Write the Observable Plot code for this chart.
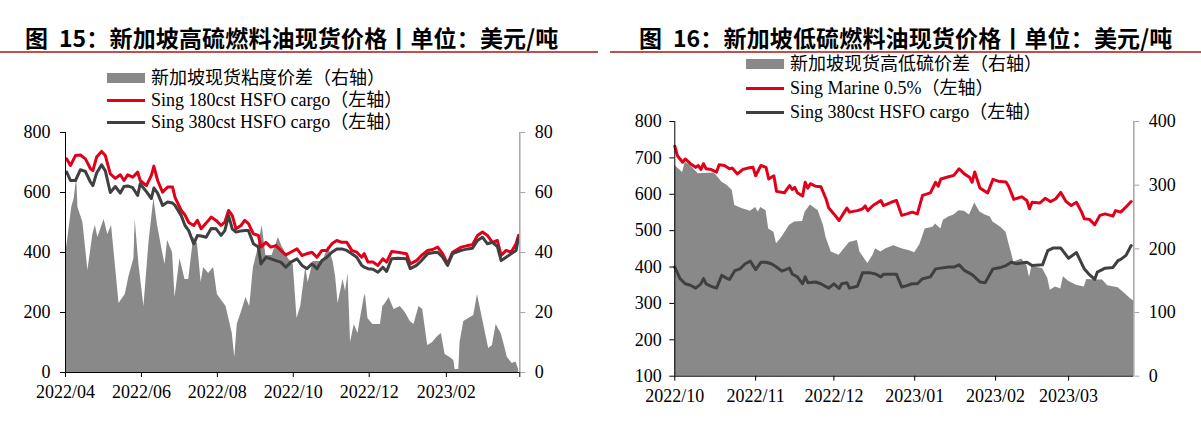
<!DOCTYPE html>
<html><head><meta charset="utf-8">
<script src="https://cdn.jsdelivr.net/npm/d3@7"></script>
<script src="https://cdn.jsdelivr.net/npm/@observablehq/plot@0.6"></script>
<style>
body{margin:0;background:#fff;width:1201px;height:429px;position:relative;overflow:hidden;font-family:"Liberation Serif","Noto Sans CJK SC",serif;color:#000}
.title{position:absolute;top:24px;font-family:"Noto Sans CJK SC",sans-serif;font-weight:700;font-size:23px;letter-spacing:0.15px;line-height:26px;white-space:pre}
.rule{position:absolute;top:51px;height:2px;background:#c0504d}
.legend{position:absolute;font-size:18px;white-space:nowrap}
.item{display:flex;align-items:center}
.sw{width:38px;margin-right:6px;flex:none}
.chart{position:absolute}
.chart svg{overflow:visible}
</style></head><body>
<div class="title" style="left:25px">图  15：新加坡高硫燃料油现货价格丨单位：美元/吨</div>
<div class="rule" style="left:0;width:598px"></div>
<div class="title" style="left:639px">图  16：新加坡低硫燃料油现货价格丨单位：美元/吨</div>
<div class="rule" style="left:610px;width:591px"></div>
<div id="legL" class="legend" style="left:107px;top:67px"></div>
<div id="legR" class="legend" style="left:746px;top:52px"></div>
<div id="chartL" class="chart" style="left:0;top:120px"></div>
<div id="chartR" class="chart" style="left:600px;top:110px"></div>
<script>
// ---------- Figure 15 data ----------
const leftLineDates = ["2022-04-02","2022-04-05","2022-04-09","2022-04-13","2022-04-17","2022-04-21","2022-04-23","2022-04-26","2022-04-30","2022-05-03",
"2022-05-07","2022-05-11","2022-05-15","2022-05-18","2022-05-21","2022-05-25","2022-05-29","2022-05-31","2022-06-05","2022-06-09",
"2022-06-11","2022-06-14","2022-06-18","2022-06-22","2022-06-26","2022-06-28","2022-07-03","2022-07-06","2022-07-09","2022-07-13",
"2022-07-16","2022-07-19","2022-07-23","2022-07-27","2022-07-31","2022-08-04","2022-08-07","2022-08-10","2022-08-13","2022-08-16",
"2022-08-20","2022-08-23","2022-08-26","2022-08-30","2022-09-03","2022-09-05","2022-09-09","2022-09-13","2022-09-17","2022-09-21",
"2022-09-25","2022-09-29","2022-10-04","2022-10-08","2022-10-12","2022-10-16","2022-10-20","2022-10-24","2022-10-28","2022-11-01",
"2022-11-05","2022-11-09","2022-11-13","2022-11-17","2022-11-21","2022-11-25","2022-11-27","2022-11-30","2022-12-04","2022-12-08",
"2022-12-12","2022-12-15","2022-12-19","2022-12-24","2022-12-31","2023-01-03","2023-01-08","2023-01-12","2023-01-17","2023-01-21",
"2023-01-25","2023-01-29","2023-02-02","2023-02-06","2023-02-13","2023-02-18","2023-02-22","2023-02-26","2023-03-02","2023-03-06",
"2023-03-10","2023-03-14","2023-03-17","2023-03-21","2023-03-25","2023-03-29","2023-03-31"];
const hsfo180 = [712,690,723,725,712,680,673,718,737,723,
662,647,659,640,659,651,668,640,623,657,
688,640,601,618,618,584,540,525,500,490,
507,479,498,518,507,490,501,540,523,479,
490,507,496,462,457,418,434,418,423,407,
392,401,412,390,396,401,384,407,407,429,
440,434,434,407,401,384,396,368,368,357,
379,368,403,401,396,362,373,390,407,410,
418,396,362,401,418,423,426,457,468,457,
434,440,390,407,401,429,457];
const hsfo380 = [668,640,640,676,670,635,623,665,692,672,
600,620,598,620,622,616,590,629,603,580,
615,598,557,568,565,557,523,490,473,429,
457,455,451,480,479,457,473,523,479,468,
472,473,473,429,418,362,384,379,373,368,
351,368,379,357,346,362,346,373,384,401,
412,412,407,396,384,357,351,346,344,334,
351,337,379,381,379,346,357,373,396,399,
401,384,357,396,407,412,414,440,451,429,
434,420,373,384,396,407,451];
const viscositySpread = [["2022-04-01",39],["2022-04-03",45],["2022-04-06",55],["2022-04-08",58],["2022-04-10",65],["2022-04-11",55],["2022-04-15",50],["2022-04-19",34],["2022-04-23",46],["2022-04-25",49],["2022-04-27",45],
["2022-05-02",51],["2022-05-05",46],["2022-05-08",49],["2022-05-11",36],["2022-05-14",23],["2022-05-19",26],["2022-05-22",32],["2022-05-26",38],["2022-05-27",51],["2022-05-30",36],
["2022-06-03",22],["2022-06-07",43],["2022-06-11",58],["2022-06-14",49],["2022-06-18",40],["2022-06-20",36],["2022-06-22",44],["2022-06-26",40],["2022-06-28",25],
["2022-07-02",38],["2022-07-06",31],["2022-07-09",31],["2022-07-13",45],["2022-07-16",43],["2022-07-19",30],["2022-07-21",35],["2022-07-25",33],["2022-07-29",35],
["2022-08-01",26],["2022-08-08",22],["2022-08-13",13],["2022-08-15",5],["2022-08-17",16],["2022-08-21",21],["2022-08-24",25],["2022-08-27",22],["2022-08-30",35],
["2022-09-02",40],["2022-09-06",49],["2022-09-09",39],["2022-09-14",39],["2022-09-19",45],["2022-09-22",42],["2022-09-27",38],
["2022-10-01",36],["2022-10-04",18],["2022-10-07",22],["2022-10-11",35],["2022-10-13",30],["2022-10-17",37],["2022-10-21",37],["2022-10-25",37],["2022-10-29",42],
["2022-11-02",37],["2022-11-04",32],["2022-11-06",23],["2022-11-10",31],["2022-11-12",27],["2022-11-14",33],["2022-11-16",10],["2022-11-19",16],["2022-11-22",13],["2022-11-24",18],["2022-11-27",25],["2022-11-28",26],["2022-11-30",18],
["2022-12-04",16],["2022-12-10",16],["2022-12-12",22],["2022-12-14",23],["2022-12-17",25],["2022-12-21",21],["2022-12-26",22],["2022-12-30",20],
["2023-01-03",17],["2023-01-06",16],["2023-01-10",22],["2023-01-13",21],["2023-01-17",9],["2023-01-21",10],["2023-01-25",12],["2023-01-28",13],["2023-01-31",6],
["2023-02-04",5],["2023-02-07",4],["2023-02-08",1],["2023-02-11",1],["2023-02-12",10],["2023-02-15",17],["2023-02-19",18],["2023-02-23",19],["2023-02-26",26],
["2023-03-02",18],["2023-03-05",12],["2023-03-07",8],["2023-03-10",9],["2023-03-13",16],["2023-03-17",13],["2023-03-19",10],["2023-03-22",5],["2023-03-26",3],["2023-03-29",3.5],["2023-03-31",1]];
const leftYTicks = [0,200,400,600,800];
const leftXTicks = ["2022-04-01","2022-06-01","2022-08-01","2022-10-01","2022-12-01","2023-02-01"];

// ---------- Figure 16 data ----------
const marine05 = [["2022-10-01",732],["2022-10-02",706],["2022-10-04",688],["2022-10-05",697],["2022-10-07",684],["2022-10-09",674],["2022-10-10",679],["2022-10-11",668],["2022-10-12",684],["2022-10-13",670],
["2022-10-15",668],["2022-10-17",661],["2022-10-18",681],["2022-10-20",679],["2022-10-22",670],["2022-10-23",672],["2022-10-25",656],["2022-10-27",668],["2022-10-29",672],["2022-10-31",674],
["2022-11-01",651],["2022-11-03",679],["2022-11-05",674],["2022-11-06",642],["2022-11-08",651],["2022-11-09",608],["2022-11-12",604],["2022-11-14",624],["2022-11-15",613],["2022-11-16",619],
["2022-11-17",604],["2022-11-19",595],["2022-11-20",633],["2022-11-21",617],["2022-11-22",629],["2022-11-24",622],["2022-11-26",621],["2022-11-28",587],["2022-11-29",563],
["2022-12-01",546],["2022-12-03",528],["2022-12-05",551],["2022-12-06",562],["2022-12-07",551],["2022-12-10",555],["2022-12-12",560],["2022-12-13",568],["2022-12-14",555],["2022-12-16",569],
["2022-12-19",583],["2022-12-20",569],["2022-12-23",578],["2022-12-25",583],["2022-12-27",542],["2022-12-29",546],["2022-12-31",551],
["2023-01-02",546],["2023-01-04",597],["2023-01-07",604],["2023-01-09",633],["2023-01-10",622],["2023-01-11",642],["2023-01-14",648],["2023-01-16",652],["2023-01-18",670],["2023-01-20",656],
["2023-01-22",647],["2023-01-23",633],["2023-01-24",661],["2023-01-26",617],["2023-01-28",608],["2023-01-29",604],["2023-01-31",641],
["2023-02-02",636],["2023-02-05",634],["2023-02-06",622],["2023-02-08",586],["2023-02-11",593],["2023-02-13",583],["2023-02-14",560],["2023-02-15",578],["2023-02-18",576],["2023-02-20",589],
["2023-02-22",580],["2023-02-24",587],["2023-02-26",605],["2023-02-28",580],
["2023-03-02",569],["2023-03-04",578],["2023-03-06",551],["2023-03-07",533],["2023-03-09",531],["2023-03-11",516],["2023-03-13",542],["2023-03-15",546],["2023-03-18",540],["2023-03-19",555],
["2023-03-21",551],["2023-03-23",565],["2023-03-25",580]];
const hsfo380b = [["2022-10-01",400],["2022-10-03",368],["2022-10-05",354],["2022-10-07",350],["2022-10-09",342],["2022-10-11",354],["2022-10-12",368],["2022-10-13",354],["2022-10-15",347],["2022-10-17",342],
["2022-10-19",377],["2022-10-21",369],["2022-10-22",366],["2022-10-24",390],["2022-10-26",395],["2022-10-28",409],["2022-10-30",416],
["2022-11-01",393],["2022-11-03",413],["2022-11-05",413],["2022-11-07",409],["2022-11-09",400],["2022-11-11",389],["2022-11-14",397],["2022-11-15",381],["2022-11-17",373],["2022-11-19",354],
["2022-11-20",373],["2022-11-21",357],["2022-11-24",359],["2022-11-26",354],["2022-11-29",342],
["2022-12-01",354],["2022-12-03",341],["2022-12-04",354],["2022-12-06",357],["2022-12-07",342],["2022-12-10",347],["2022-12-12",384],["2022-12-15",384],["2022-12-17",381],["2022-12-19",373],
["2022-12-20",380],["2022-12-25",380],["2022-12-27",345],["2022-12-29",349],["2022-12-31",354],
["2023-01-02",354],["2023-01-04",368],["2023-01-07",373],["2023-01-09",395],["2023-01-11",397],["2023-01-14",400],["2023-01-16",400],["2023-01-18",406],["2023-01-20",391],["2023-01-23",379],
["2023-01-26",359],["2023-01-28",357],["2023-01-31",395],
["2023-02-03",399],["2023-02-05",404],["2023-02-07",413],["2023-02-09",409],["2023-02-13",413],["2023-02-15",404],["2023-02-19",406],["2023-02-21",445],["2023-02-23",452],["2023-02-26",452],
["2023-03-01",424],["2023-03-04",440],["2023-03-07",395],["2023-03-09",379],["2023-03-11",366],["2023-03-12",386],["2023-03-15",397],["2023-03-18",399],["2023-03-20",418],["2023-03-21",421],
["2023-03-23",432],["2023-03-25",459]];
const sulphurSpread = [["2022-10-01",331],["2022-10-04",320],["2022-10-05",336],["2022-10-07",331],["2022-10-10",318],["2022-10-16",319],["2022-10-17",315],["2022-10-18",310],["2022-10-19",305],["2022-10-21",300],
["2022-10-23",292],["2022-10-24",268],["2022-10-27",263],["2022-10-30",259],
["2022-11-01",265],["2022-11-02",258],["2022-11-03",265],["2022-11-05",260],["2022-11-06",231],["2022-11-08",226],["2022-11-09",208],["2022-11-11",218],["2022-11-14",237],["2022-11-16",242],
["2022-11-19",243],["2022-11-20",258],["2022-11-22",269],["2022-11-25",260],["2022-11-27",237],["2022-11-28",218],["2022-11-30",195],
["2022-12-03",190],["2022-12-05",200],["2022-12-07",210],["2022-12-10",213],["2022-12-11",195],["2022-12-14",177],["2022-12-16",190],["2022-12-17",200],["2022-12-19",195],["2022-12-21",200],
["2022-12-24",205],["2022-12-27",200],["2022-12-30",197],
["2023-01-01",194],["2023-01-03",207],["2023-01-05",231],["2023-01-08",234],["2023-01-09",239],["2023-01-11",231],["2023-01-12",245],["2023-01-14",250],["2023-01-16",253],["2023-01-18",260],
["2023-01-20",259],["2023-01-22",253],["2023-01-24",272],["2023-01-26",258],["2023-01-28",253],["2023-01-30",250],["2023-01-31",242],
["2023-02-03",234],["2023-02-05",226],["2023-02-06",210],["2023-02-07",195],["2023-02-08",179],["2023-02-09",181],["2023-02-11",184],["2023-02-13",174],["2023-02-14",155],["2023-02-15",174],
["2023-02-16",171],["2023-02-19",169],["2023-02-21",154],["2023-02-22",135],["2023-02-24",140],["2023-02-26",137],["2023-02-27",156],
["2023-03-01",149],["2023-03-04",143],["2023-03-07",140],["2023-03-08",152],["2023-03-11",151],["2023-03-14",151],["2023-03-16",142],["2023-03-20",139],["2023-03-22",132],["2023-03-25",121],["2023-03-26",118]];
const rightYTicks = [100,200,300,400,500,600,700,800];
const rightY2Ticks = [0,100,200,300,400];
const rightXTicks = ["2022-10-01","2022-11-01","2022-12-01","2023-01-01","2023-02-01","2023-03-01"];

// legend labels
const legendLeft = ["新加坡现货粘度价差（右轴）","Sing 180cst HSFO cargo（左轴）","Sing 380cst HSFO cargo（左轴）"];
const legendRight = ["新加坡现货高低硫价差（右轴）","Sing Marine 0.5%（左轴）","Sing 380cst HSFO cargo（左轴）"];

// ---------- styles ----------
const RED = "#e1001a", DARK = "#404040", AREA = "#898989", AXIS2 = "#a6a6a6";
const parse = d3.utcParse("%Y-%m-%d");
const fmt = d3.utcFormat("%Y/%m");
const style = {fontFamily:'"Liberation Serif","Times New Roman",serif', fontSize:"18px", color:"#000", background:"transparent", overflow:"visible"};

function legend(el, labels, rowH){
  const kinds = [{bg:AREA,h:10},{bg:RED,h:3},{bg:DARK,h:3}];
  labels.forEach((t,i)=>{
    const row = document.createElement("div"); row.className="item";
    row.style.height = rowH+"px"; row.style.lineHeight = rowH+"px";
    const sw = document.createElement("div"); sw.className="sw";
    sw.style.background = kinds[i].bg; sw.style.height = kinds[i].h+"px";
    const tx = document.createElement("span"); tx.textContent = t;
    row.append(sw, tx); el.append(row);
  });
}
legend(document.getElementById("legL"), legendLeft, 22);
legend(document.getElementById("legR"), legendRight, 24);

// ---------- Figure 15 ----------
{
  const lines = leftLineDates.map((d,i)=>({date:parse(d), a:hsfo180[i], b:hsfo380[i]}));
  const area = viscositySpread.map(([d,v])=>({date:parse(d), v}));
  const x0 = parse("2022-04-01"), x1 = parse("2023-04-01");
  const chart = Plot.plot({
    width:600, height:300, marginLeft:65, marginRight:80.7, marginTop:12, marginBottom:48,
    style,
    x:{type:"utc", domain:[x0,x1]},
    y:{domain:[0,800]},
    marks:[
      Plot.areaY(area,{x:"date", y:d=>d.v*10, fill:AREA}),
      Plot.lineY(lines,{x:"date", y:"a", stroke:RED, strokeWidth:3}),
      Plot.lineY(lines,{x:"date", y:"b", stroke:DARK, strokeWidth:3}),
      Plot.ruleX([x1],{stroke:AXIS2, strokeWidth:1.5}),
      Plot.ruleX([x0],{stroke:"#000"}),
      Plot.ruleY([0],{stroke:"#000"}),
      Plot.axisY({anchor:"left", ticks:leftYTicks, tickSize:5, tickPadding:10, label:null, fill:"#000"}),
      Plot.axisY({anchor:"right", ticks:leftYTicks, tickFormat:d=>d/10, tickSize:5, tickPadding:10, label:null, stroke:AXIS2, fill:"#000"}),
      Plot.axisX({ticks:leftXTicks.map(parse), tickFormat:fmt, tickSize:5, tickPadding:8, label:null, fill:"#000"}),
      Plot.axisX({ticks:[x1], tickFormat:()=>"", tickSize:5, label:null})
    ]
  });
  document.getElementById("chartL").append(chart);
}

// ---------- Figure 16 ----------
{
  const red = marine05.map(([d,v])=>({date:parse(d), v}));
  const dark = hsfo380b.map(([d,v])=>({date:parse(d), v}));
  const area = sulphurSpread.map(([d,v])=>({date:parse(d), v}));
  const x0 = parse("2022-10-01"), x1 = parse("2023-03-26");
  const toLeft = v => 100 + v*1.75;
  const chart = Plot.plot({
    width:601, height:300, marginLeft:74.3, marginRight:67.7, marginTop:11, marginBottom:34.3,
    style,
    x:{type:"utc", domain:[x0,x1]},
    y:{domain:[100,800]},
    marks:[
      Plot.areaY(area,{x:"date", y1:100, y2:d=>toLeft(d.v), fill:AREA}),
      Plot.lineY(red,{x:"date", y:"v", stroke:RED, strokeWidth:3}),
      Plot.lineY(dark,{x:"date", y:"v", stroke:DARK, strokeWidth:3}),
      Plot.ruleX([x1],{stroke:AXIS2, strokeWidth:1.5}),
      Plot.ruleX([x0],{stroke:"#000"}),
      Plot.ruleY([100],{stroke:"#000"}),
      Plot.axisY({anchor:"left", ticks:rightYTicks, tickSize:5, tickPadding:8, label:null, fill:"#000"}),
      Plot.axisY({anchor:"right", ticks:rightY2Ticks.map(toLeft), tickFormat:d=>Math.round((d-100)/1.75), tickSize:5, tickPadding:10, label:null, stroke:AXIS2, fill:"#000"}),
      Plot.axisX({ticks:rightXTicks.map(parse), tickFormat:fmt, tickSize:5, tickPadding:8, label:null, fill:"#000"})
    ]
  });
  document.getElementById("chartR").append(chart);
}
</script>
</body></html>
